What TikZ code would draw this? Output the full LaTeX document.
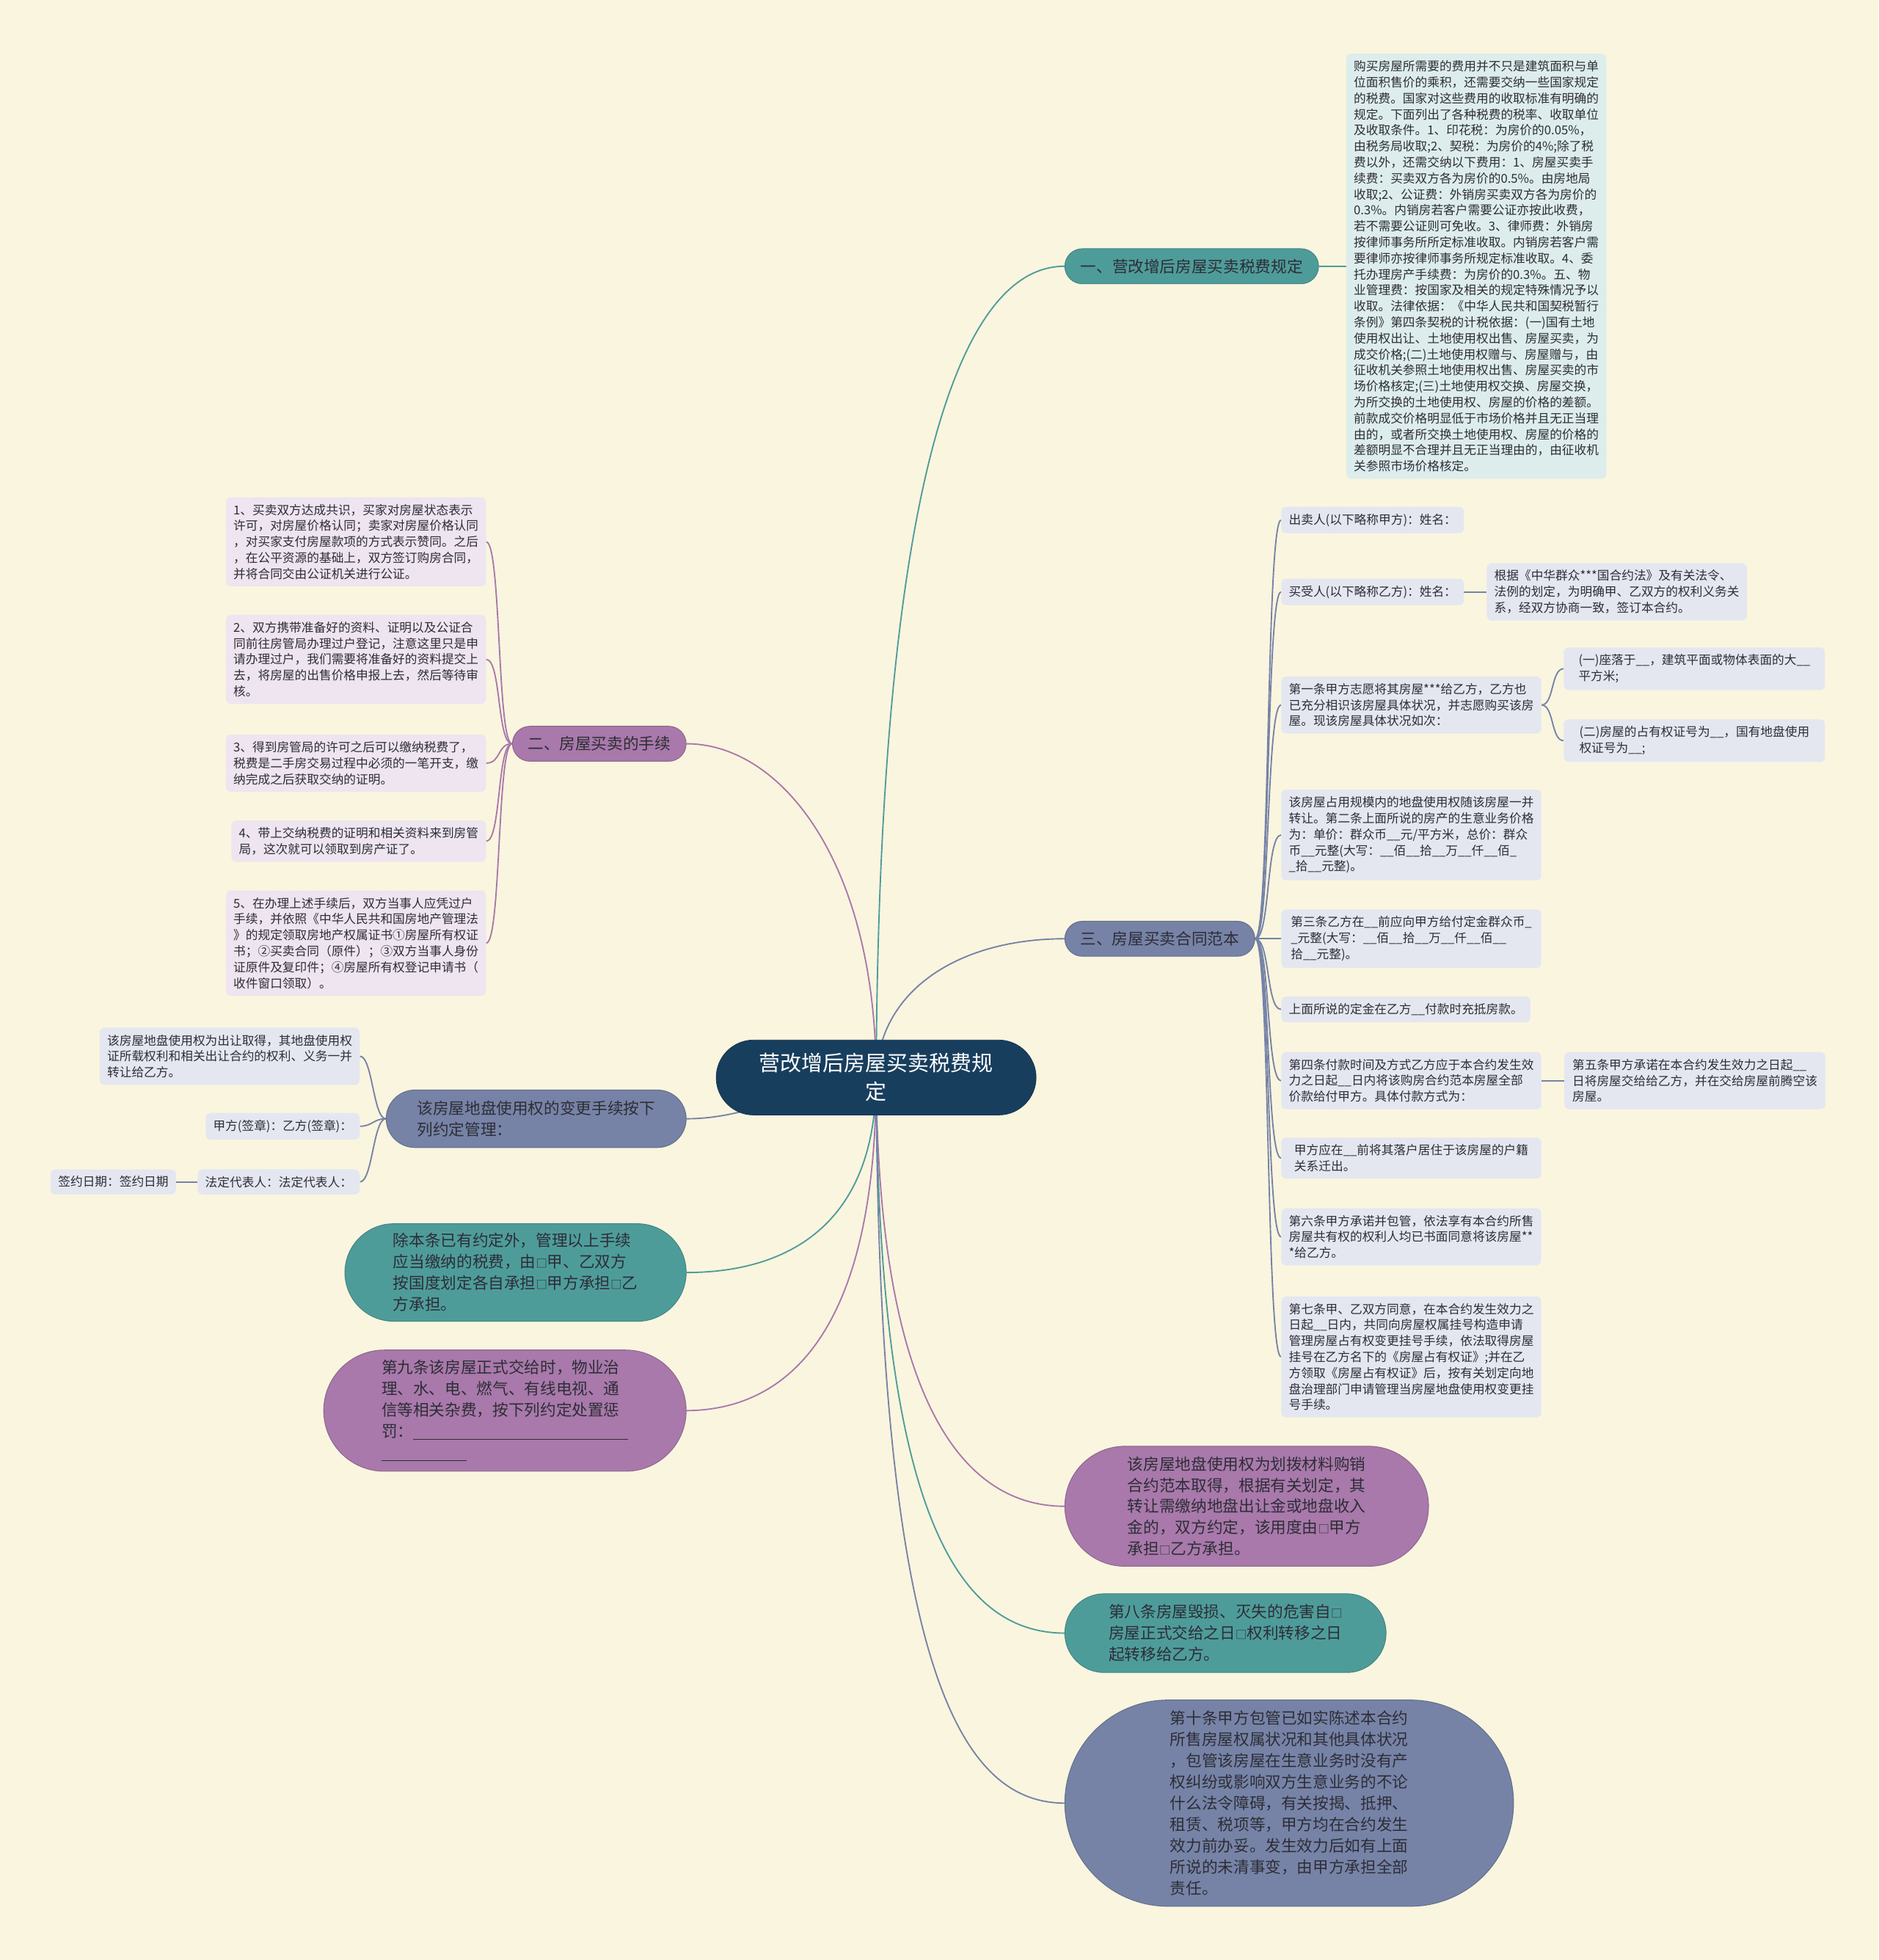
\documentclass[tikz,border=0pt]{standalone}
\usepackage{fontspec}
\setmainfont{Noto Sans CJK SC}
\usetikzlibrary{shapes.misc,positioning}
\definecolor{monFond}{RGB}{250,245,223}
\definecolor{monMarine}{RGB}{24,62,94}
\definecolor{monSarcelle}{RGB}{78,156,154}
\definecolor{monViolet}{RGB}{168,121,170}
\definecolor{monArdoise}{RGB}{118,131,166}
\definecolor{monSarcelleClair}{RGB}{221,237,236}
\definecolor{monVioletClair}{RGB}{238,229,240}
\definecolor{monArdoiseClair}{RGB}{228,231,240}
\definecolor{monEncre}{RGB}{45,45,55}
\newcommand\petit{\fontsize{9.8}{12.8}\selectfont}
\newcommand\moyen{\fontsize{12.7}{17}\selectfont}
\newcommand\grand{\fontsize{17}{23}\selectfont}
\newcommand\carre{{\fontsize{9}{9}\selectfont □}}
\newcommand\blanc{\_\_}
\pgfdeclarelayer{fond}
\pgfdeclarelayer{liens}
\pgfsetlayers{fond,liens,main}
\tikzstyle{racine} = [rounded rectangle, fill=monMarine, draw=monMarine!80!black, text=white, font=\grand, align=center, minimum width=260pt, minimum height=60pt, inner sep=2pt]
\tikzstyle{bulle} = [rounded rectangle, font=\moyen, align=left, inner xsep=2pt, inner ysep=4pt, text=monEncre, line width=0.6pt]
\tikzstyle{bulle_sarcelle} = [bulle, fill=monSarcelle, draw=monSarcelle!85!black]
\tikzstyle{bulle_violet} = [bulle, fill=monViolet, draw=monViolet!85!black]
\tikzstyle{bulle_ardoise} = [bulle, fill=monArdoise, draw=monArdoise!85!black]
\tikzstyle{feuille} = [rectangle, rounded corners=4pt, font=\petit, align=left, inner xsep=6pt, inner ysep=5.5pt, text=monEncre]
\tikzstyle{feuille_sarcelle} = [feuille, fill=monSarcelleClair]
\tikzstyle{feuille_violet} = [feuille, fill=monVioletClair]
\tikzstyle{feuille_ardoise} = [feuille, fill=monArdoiseClair]
\tikzstyle{lien} = [line width=1.1pt]
\tikzstyle{lien_sarcelle} = [lien, draw=monSarcelle]
\tikzstyle{lien_violet} = [lien, draw=monViolet]
\tikzstyle{lien_ardoise} = [lien, draw=monArdoise]

\begin{document}
\begin{tikzpicture}[x=1pt, y=-1pt]
    \useasboundingbox (0,0) rectangle (1503,1568);
    \begin{pgfonlayer}{fond}
        \fill[monFond] (0,0) rectangle (1503,1568);
    \end{pgfonlayer}

    \node[racine] (racine) at (701,862) {营改增后房屋买卖税费规\\定};

    % branches
    \node[bulle_sarcelle, minimum width=207pt, minimum height=28pt] (etape1) at (953.5,213) {一、营改增后房屋买卖税费规定};
    \node[bulle_violet, minimum width=143pt, minimum height=28pt] (etape2) at (479.5,595) {二、房屋买卖的手续};
    \node[bulle_ardoise, minimum width=156pt, minimum height=28pt] (etape3) at (928,751) {三、房屋买卖合同范本};
    \node[bulle_ardoise, minimum width=244pt, minimum height=46pt] (etape4) at (429,895) {该房屋地盘使用权的变更手续按下\\列约定管理：};
    \node[bulle_sarcelle, minimum width=277pt, minimum height=78pt] (etape5) at (412.5,1018) {除本条已有约定外，管理以上手续\\应当缴纳的税费，由\carre 甲、乙双方\\按国度划定各自承担\carre 甲方承担\carre 乙\\方承担。};
    \node[bulle_violet, minimum width=294pt, minimum height=97pt] (etape6) at (404,1128.5) {第九条该房屋正式交给时，物业治\\理、水、电、燃气、有线电视、通\\信等相关杂费，按下列约定处置惩\\罚：\rule[-2pt]{172pt}{0.6pt}\\\rule[-2pt]{68pt}{0.6pt}};
    \node[bulle_violet, minimum width=295pt, minimum height=96pt] (etape7) at (997.5,1205) {该房屋地盘使用权为划拨材料购销\\合约范本取得，根据有关划定，其\\转让需缴纳地盘出让金或地盘收入\\金的，双方约定，该用度由\carre 甲方\\承担\carre 乙方承担。};
    \node[bulle_sarcelle, minimum width=261pt, minimum height=63pt] (etape8) at (980.5,1306.5) {第八条房屋毁损、灭失的危害自\carre\\房屋正式交给之日\carre 权利转移之日\\起转移给乙方。};
    \node[bulle_ardoise, minimum width=363pt, minimum height=165pt] (etape9) at (1031.5,1442.5) {第十条甲方包管已如实陈述本合约\\所售房屋权属状况和其他具体状况\\，包管该房屋在生意业务时没有产\\权纠纷或影响双方生意业务的不论\\什么法令障碍，有关按揭、抵押、\\租赁、税项等，甲方均在合约发生\\效力前办妥。发生效力后如有上面\\所说的未清事变，由甲方承担全部\\责任。};

    % detail of the first branch
    \node[feuille_sarcelle, anchor=west] (detail1) at (1077,213) {购买房屋所需要的费用并不只是建筑面积与单\\位面积售价的乘积，还需要交纳一些国家规定\\的税费。国家对这些费用的收取标准有明确的\\规定。下面列出了各种税费的税率、收取单位\\及收取条件。1、印花税：为房价的0.05\%，\\由税务局收取;2、契税：为房价的4\%;除了税\\费以外，还需交纳以下费用：1、房屋买卖手\\续费：买卖双方各为房价的0.5\%。由房地局\\收取;2、公证费：外销房买卖双方各为房价的\\0.3\%。内销房若客户需要公证亦按此收费，\\若不需要公证则可免收。3、律师费：外销房\\按律师事务所所定标准收取。内销房若客户需\\要律师亦按律师事务所规定标准收取。4、委\\托办理房产手续费：为房价的0.3\%。五、物\\业管理费：按国家及相关的规定特殊情况予以\\收取。法律依据：《中华人民共和国契税暂行\\条例》第四条契税的计税依据：(一)国有土地\\使用权出让、土地使用权出售、房屋买卖，为\\成交价格;(二)土地使用权赠与、房屋赠与，由\\征收机关参照土地使用权出售、房屋买卖的市\\场价格核定;(三)土地使用权交换、房屋交换，\\为所交换的土地使用权、房屋的价格的差额。\\前款成交价格明显低于市场价格并且无正当理\\由的，或者所交换土地使用权、房屋的价格的\\差额明显不合理并且无正当理由的，由征收机\\关参照市场价格核定。};

    % procedure steps
    \node[feuille_violet, anchor=east] (proc1) at (389,433.5) {1、买卖双方达成共识，买家对房屋状态表示\\许可，对房屋价格认同；卖家对房屋价格认同\\，对买家支付房屋款项的方式表示赞同。之后\\，在公平资源的基础上，双方签订购房合同，\\并将合同交由公证机关进行公证。};
    \node[feuille_violet, anchor=east] (proc2) at (389,527.5) {2、双方携带准备好的资料、证明以及公证合\\同前往房管局办理过户登记，注意这里只是申\\请办理过户，我们需要将准备好的资料提交上\\去，将房屋的出售价格申报上去，然后等待审\\核。};
    \node[feuille_violet, anchor=east] (proc3) at (389,610.5) {3、得到房管局的许可之后可以缴纳税费了，\\税费是二手房交易过程中必须的一笔开支，缴\\纳完成之后获取交纳的证明。};
    \node[feuille_violet, anchor=east] (proc4) at (389,673) {4、带上交纳税费的证明和相关资料来到房管\\局，这次就可以领取到房产证了。};
    \node[feuille_violet, anchor=east] (proc5) at (389,754.5) {5、在办理上述手续后，双方当事人应凭过户\\手续，并依照《中华人民共和国房地产管理法\\》的规定领取房地产权属证书①房屋所有权证\\书；②买卖合同（原件）；③双方当事人身份\\证原件及复印件；④房屋所有权登记申请书（\\收件窗口领取）。};

    % contract articles
    \node[feuille_ardoise, anchor=west] (art1) at (1025,416) {出卖人(以下略称甲方)：姓名：};
    \node[feuille_ardoise, anchor=west] (art2) at (1025,473.5) {买受人(以下略称乙方)：姓名：};
    \node[feuille_ardoise, right=18pt of art2] (art2a) {根据《中华群众***国合约法》及有关法令、\\法例的划定，为明确甲、乙双方的权利义务关\\系，经双方协商一致，签订本合约。};
    \node[feuille_ardoise, anchor=west] (art3) at (1025,564) {第一条甲方志愿将其房屋***给乙方，乙方也\\已充分相识该房屋具体状况，并志愿购买该房\\屋。现该房屋具体状况如次：};
    \node[feuille_ardoise, anchor=west, minimum width=209pt] (art3a) at (1251,535) {(一)座落于\blanc，建筑平面或物体表面的大\blanc\\平方米;};
    \node[feuille_ardoise, anchor=west, minimum width=209pt] (art3b) at (1251,592.5) {(二)房屋的占有权证号为\blanc，国有地盘使用\\权证号为\blanc;};
    \node[feuille_ardoise, anchor=west, minimum width=208pt] (art4) at (1025,668) {该房屋占用规模内的地盘使用权随该房屋一并\\转让。第二条上面所说的房产的生意业务价格\\为：单价：群众币\blanc 元/平方米，总价：群众\\币\blanc 元整(大写：\blanc 佰\blanc 拾\blanc 万\blanc 仟\blanc 佰\_\\\_拾\blanc 元整)。};
    \node[feuille_ardoise, anchor=west, minimum width=208pt] (art5) at (1025,751) {第三条乙方在\blanc 前应向甲方给付定金群众币\_\\\_元整(大写：\blanc 佰\blanc 拾\blanc 万\blanc 仟\blanc 佰\blanc\\拾\blanc 元整)。};
    \node[feuille_ardoise, anchor=west] (art6) at (1025,807.5) {上面所说的定金在乙方\blanc 付款时充抵房款。};
    \node[feuille_ardoise, anchor=west] (art7) at (1025,864.5) {第四条付款时间及方式乙方应于本合约发生效\\力之日起\blanc 日内将该购房合约范本房屋全部\\价款给付甲方。具体付款方式为：};
    \node[feuille_ardoise, right=18pt of art7, minimum width=209pt] (art7a) {第五条甲方承诺在本合约发生效力之日起\blanc\\日将房屋交给给乙方，并在交给房屋前腾空该\\房屋。};
    \node[feuille_ardoise, anchor=west, minimum width=208pt] (art8) at (1025,926.5) {甲方应在\blanc 前将其落户居住于该房屋的户籍\\关系迁出。};
    \node[feuille_ardoise, anchor=west] (art9) at (1025,989.5) {第六条甲方承诺并包管，依法享有本合约所售\\房屋共有权的权利人均已书面同意将该房屋**\\*给乙方。};
    \node[feuille_ardoise, anchor=west] (art10) at (1025,1085.5) {第七条甲、乙双方同意，在本合约发生效力之\\日起\blanc 日内，共同向房屋权属挂号构造申请\\管理房屋占有权变更挂号手续，依法取得房屋\\挂号在乙方名下的《房屋占有权证》;并在乙\\方领取《房屋占有权证》后，按有关划定向地\\盘治理部门申请管理当房屋地盘使用权变更挂\\号手续。};

    % land use items
    \node[feuille_ardoise, anchor=east] (sol1) at (288,845) {该房屋地盘使用权为出让取得，其地盘使用权\\证所载权利和相关出让合约的权利、义务一并\\转让给乙方。};
    \node[feuille_ardoise, anchor=east] (sol2) at (288,901) {甲方(签章)：乙方(签章)：};
    \node[feuille_ardoise, anchor=east] (sol3) at (288,945.5) {法定代表人：法定代表人：};
    \node[feuille_ardoise, left=17pt of sol3] (sol3a) {签约日期：签约日期};

    \begin{pgfonlayer}{liens}
        \draw[lien_sarcelle] (racine.center) .. controls (703,420) and (760,213) .. (etape1.west);
        \draw[lien_sarcelle] (etape1.east) -- (detail1.west);
        \draw[lien_violet] (racine.center) .. controls (701,690) and (625,595) .. (etape2.east);
        \foreach \i in {1,...,5}
            \draw[lien_violet] (etape2.west) .. controls +(-12,0) and +(12,0) .. (proc\i.east);
        \draw[lien_ardoise] (racine.center) .. controls (703,790) and (770,751) .. (etape3.west);
        \foreach \i in {1,...,10}
            \draw[lien_ardoise] (etape3.east) .. controls +(12,0) and +(-12,0) .. (art\i.west);
        \draw[lien_ardoise] (art2.east) -- (art2a.west);
        \draw[lien_ardoise] (art3.east) .. controls +(10,0) and +(-10,0) .. (art3a.west);
        \draw[lien_ardoise] (art3.east) .. controls +(10,0) and +(-10,0) .. (art3b.west);
        \draw[lien_ardoise] (art7.east) -- (art7a.west);
        \draw[lien_ardoise] (racine.center) .. controls (640,870) and (600,895) .. (etape4.east);
        \foreach \i in {1,2,3}
            \draw[lien_ardoise] (etape4.west) .. controls +(-10,0) and +(10,0) .. (sol\i.east);
        \draw[lien_ardoise] (sol3.west) -- (sol3a.east);
        \draw[lien_sarcelle] (racine.center) .. controls (701,980) and (630,1018) .. (etape5.east);
        \draw[lien_violet] (racine.center) .. controls (701,1080) and (620,1128) .. (etape6.east);
        \draw[lien_violet] (racine.center) .. controls (703,1120) and (770,1205) .. (etape7.west);
        \draw[lien_sarcelle] (racine.center) .. controls (703,1220) and (770,1306) .. (etape8.west);
        \draw[lien_ardoise] (racine.center) .. controls (703,1340) and (770,1442) .. (etape9.west);
    \end{pgfonlayer}
\end{tikzpicture}
\end{document}
